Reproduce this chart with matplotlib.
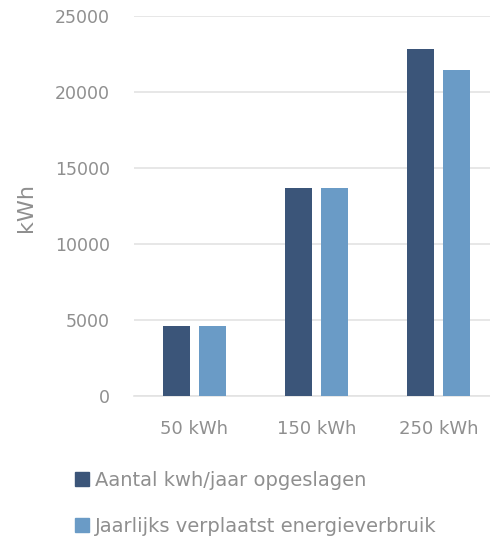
import matplotlib
matplotlib.use("Agg")
import matplotlib.pyplot as plt
import matplotlib.patches as mpatches
import numpy as np

categories = ["50 kWh", "150 kWh", "250 kWh"]
series_names = ["Aantal kwh/jaar opgeslagen", "Jaarlijks verplaatst energieverbruik"]
opgeslagen = [4600, 13700, 22800]
verplaatst = [4600, 13700, 21450]
yticks = [0, 5000, 10000, 15000, 20000, 25000]

colors = ["#3B5579", "#6A9BC6"]
text_color = "#8F8F8F"
grid_color = "#E3E3E3"

plt.rcParams['font.family'] = ['DejaVu Sans']

fig = plt.figure(figsize=(4.9, 5.36), dpi=100)
ax = fig.add_axes([133.5/490, 140/536, 366/490, 380/536])

x = np.arange(len(categories))
w = 0.225
off = 0.1455
ax.bar(x - off, opgeslagen, width=w, color=colors[0], label=series_names[0], zorder=3)
ax.bar(x + off, verplaatst, width=w, color=colors[1], label=series_names[1], zorder=3)

ax.set_xlim(-0.5, 2.5)
ax.set_ylim(0, 25000)
ax.set_yticks(yticks)
ax.set_yticklabels([str(v) for v in yticks])
ax.set_xticks(x)
ax.set_xticklabels(categories)
ax.yaxis.grid(True, color=grid_color, linewidth=1.2, zorder=0)
ax.set_axisbelow(True)
for s in ["top", "right", "left"]:
    ax.spines[s].set_visible(False)
ax.spines["bottom"].set_color(grid_color)
ax.spines["bottom"].set_linewidth(1.2)
ax.tick_params(axis="both", length=0, colors=text_color)
ax.tick_params(axis="y", labelsize=12.5, pad=17)
ax.tick_params(axis="x", labelsize=13, pad=17)
ax.set_ylabel("kWh", fontsize=16, color=text_color)
ax.yaxis.set_label_coords(-(133.5-36)/366, (396-207)/380)

handles = [mpatches.Patch(color=c) for c in colors]
fig.legend(handles, series_names, loc="upper left",
           bbox_to_anchor=(75/490, (536-471)/536), frameon=False,
           fontsize=14, labelcolor=text_color, handlelength=0.72,
           handleheight=0.72, handletextpad=0.3, labelspacing=1.37,
           borderpad=0, borderaxespad=0)

fig.savefig("out.png", dpi=100)
